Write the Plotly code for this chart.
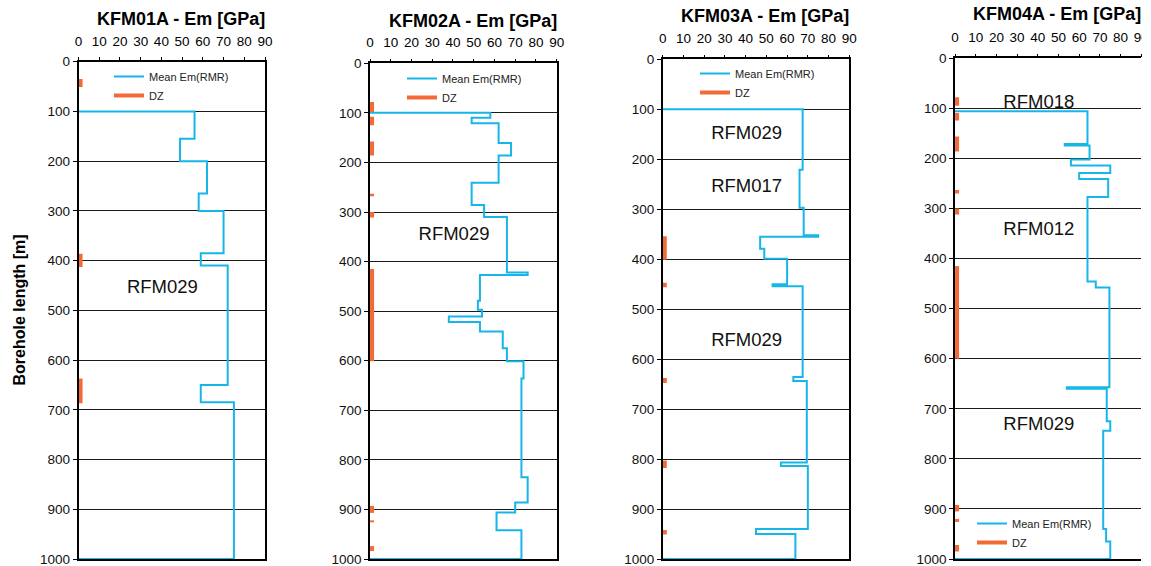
import plotly.graph_objects as go

# Canvas size in pixels (layout helpers below convert pixels to paper units)
W, H = 1142, 566

# ---- data -------------------------------------------------------------
titles = ["KFM01A - Em [GPa]", "KFM02A - Em [GPa]",
          "KFM03A - Em [GPa]", "KFM04A - Em [GPa]"]

# Mean Em(RMR): step boundaries along the borehole [m] and the value in each step [GPa]
kfm01a_depth = [100, 155, 200, 265, 300, 385, 410, 650, 685, 1000]
kfm01a_em = [56, 49, 62, 58, 70, 59, 72, 59, 75]

kfm02a_depth = [100, 110, 121, 161, 186, 241, 286, 310, 422, 427, 479, 497,
                511, 522, 541, 575, 601, 636, 835, 886, 906, 942, 1000]
kfm02a_em = [58, 49, 62, 68, 62, 49, 55, 66, 76, 53, 52, 54,
             38, 53, 64, 66, 74, 73, 76, 70, 61, 73]

kfm03a_depth = [100, 221, 297, 352, 355, 379, 399, 450, 454, 636, 644,
                807, 814, 940, 950, 1000]
kfm03a_em = [67.5, 66, 68, 75, 47, 49, 60, 53, 67.5, 63, 69.5, 57, 70, 45, 64]

kfm04a_depth = [106, 171, 174, 202, 214, 229, 241, 277, 446, 458, 657, 660,
                725, 744, 940, 965, 1000]
kfm04a_em = [64, 53, 65, 56, 75, 60, 74, 64, 68, 74.6, 54, 73.3, 75, 71.6, 73, 75]

# Deformation zones (DZ): from / to [m]
kfm01a_dz = [(35, 51), (386, 413), (637, 687)]
kfm02a_dz = [(78, 98), (108, 125), (158, 186), (263, 268), (300, 311),
             (415, 601), (893, 907), (922, 926), (974, 984)]
kfm03a_dz = [(354, 401), (447, 456), (638, 648), (803, 818), (942, 951)]
kfm04a_dz = [(78, 95), (109, 124), (156, 186), (263, 270), (300, 312),
             (415, 600), (892, 905), (920, 926), (972, 985)]

# Rock domains named along each borehole, with the depth of the name [m]
kfm01a_rfm = ["RFM029"]
kfm01a_rfm_depth = [456]
kfm02a_rfm = ["RFM029"]
kfm02a_rfm_depth = [348]
kfm03a_rfm = ["RFM029", "RFM017", "RFM029"]
kfm03a_rfm_depth = [151, 257, 565]
kfm04a_rfm = ["RFM018", "RFM012", "RFM029"]
kfm04a_rfm_depth = [91, 343, 733]

x_ticks = list(range(0, 100, 10))
y_ticks = list(range(0, 1100, 100))

boreholes = [
    (kfm01a_depth, kfm01a_em, kfm01a_dz, kfm01a_rfm, kfm01a_rfm_depth),
    (kfm02a_depth, kfm02a_em, kfm02a_dz, kfm02a_rfm, kfm02a_rfm_depth),
    (kfm03a_depth, kfm03a_em, kfm03a_dz, kfm03a_rfm, kfm03a_rfm_depth),
    (kfm04a_depth, kfm04a_em, kfm04a_dz, kfm04a_rfm, kfm04a_rfm_depth),
]

# ---- styling / layout -------------------------------------------------
FONT = "Liberation Sans, Arial, sans-serif"
BLUE = "#16B6E8"
ORANGE = "#F26A36"

# panel frames in pixels: left, right, top, bottom
BOTTOM = 559.0
frames = [(78.5, 265.0, 61.7, BOTTOM),
          (370.0, 556.7, 63.3, BOTTOM),
          (662.7, 849.3, 59.3, BOTTOM),
          (955.0, 1141.3, 58.3, BOTTOM)]
# legend anchor (px) per panel: left edge, top edge
legend_pos = [(109, 62), (402, 64), (695, 59), (972, 509)]
# vertical centre (px) of each panel heading
title_y = [18.5, 20.5, 16, 14]


def px(x):
    return x / W


def py(y):
    return 1 - y / H


def step_path(depth, em):
    xs, ys = [0], [depth[0]]
    for i, v in enumerate(em):
        xs += [v, v]
        ys += [depth[i], depth[i + 1]]
    xs.append(0)
    ys.append(depth[-1])
    return xs, ys


def dz_path(intervals, x_pos=1.0):
    xs, ys = [], []
    for a, b in intervals:
        xs += [x_pos, x_pos, None]
        ys += [a, b, None]
    return xs, ys


fig = go.Figure()
annotations = []
layout = {}

for i, (depth, em, dz, rfm, rfm_d) in enumerate(boreholes):
    n = "" if i == 0 else str(i + 1)
    leg = "legend" if i == 0 else f"legend{i + 1}"
    xs, ys = step_path(depth, em)
    fig.add_trace(go.Scatter(
        x=xs, y=ys, mode="lines", name="Mean Em(RMR)",
        line=dict(color=BLUE, width=2), xaxis=f"x{n}", yaxis=f"y{n}",
        legend=leg, hoverinfo="skip"))
    dx, dy = dz_path(dz)
    fig.add_trace(go.Scatter(
        x=dx, y=dy, mode="lines", name="DZ",
        line=dict(color=ORANGE, width=4), xaxis=f"x{n}", yaxis=f"y{n}",
        legend=leg, hoverinfo="skip"))
    fig.add_trace(go.Scatter(
        x=[40.5] * len(rfm), y=rfm_d, mode="text", text=rfm,
        textfont=dict(family=FONT, size=18.5, color="#111"),
        xaxis=f"x{n}", yaxis=f"y{n}", showlegend=False, hoverinfo="skip",
        cliponaxis=False))

    l, r, t, b = frames[i]
    layout[f"xaxis{n}"] = dict(
        domain=[px(l), px(r)], range=[0, 90], side="top", anchor=f"y{n}",
        tickmode="array", tickvals=x_ticks, ticks="outside", ticklen=3,
        ticklabelstandoff=6, ticklabeloverflow="allow",
        tickcolor="#000", showline=True, linecolor="#000", linewidth=1.5,
        mirror=True, showgrid=False, zeroline=False,
        tickfont=dict(family=FONT, size=13.5, color="#000"))
    layout[f"yaxis{n}"] = dict(
        domain=[py(b), py(t)], range=[1000, 0], anchor=f"x{n}",
        tickmode="array", tickvals=y_ticks, ticks="outside", ticklen=4,
        ticklabeloverflow="allow",
        tickcolor="#000", showline=True, linecolor="#000", linewidth=1.5,
        mirror=(i < 3), showgrid=True, gridcolor="#1a1a1a", gridwidth=1,
        zeroline=False, tickfont=dict(family=FONT, size=13.5, color="#111"))
    lx, ly = legend_pos[i]
    layout[leg] = dict(
        x=px(lx), y=py(ly), xanchor="left", yanchor="top",
        bgcolor="rgba(0,0,0,0)", borderwidth=0, tracegroupgap=0,
        font=dict(family=FONT, size=11, color="#222"))
    annotations.append(dict(
        text=f"<b>{titles[i]}</b>", x=px(r + 2), y=py(title_y[i]),
        xref="paper", yref="paper", xanchor="right", yanchor="middle",
        showarrow=False, font=dict(family=FONT, size=18, color="#000")))

annotations.append(dict(
    text="<b>Borehole length [m]</b>", x=px(18.5), y=py(310),
    xref="paper", yref="paper", xanchor="center", yanchor="middle",
    textangle=-90, showarrow=False,
    font=dict(family=FONT, size=16, color="#000")))

fig.update_layout(
    width=W, height=H,
    margin=dict(l=0, r=0, t=0, b=0, pad=0, autoexpand=False),
    paper_bgcolor="white", plot_bgcolor="white",
    annotations=annotations, **layout)

fig.write_html("out.html")
